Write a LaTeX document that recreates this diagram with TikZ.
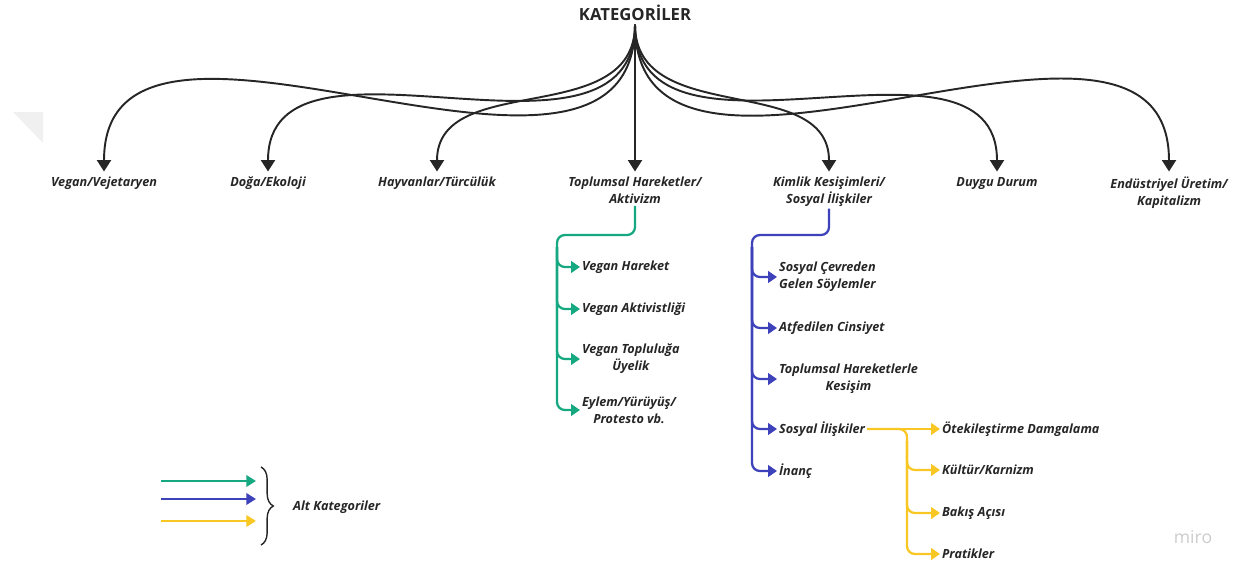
\documentclass[tikz,border=0pt]{standalone}
\usepackage{fontspec}
\setmainfont{Open Sans}
\usetikzlibrary{arrows.meta,decorations.pathreplacing}
\definecolor{yazi}{RGB}{38,38,38}
\definecolor{altyesil}{RGB}{22,168,128}
\definecolor{altmavi}{RGB}{62,66,186}
\definecolor{altsari}{RGB}{248,199,36}

\begin{document}
\begin{tikzpicture}[
        x=0.02cm, y=-0.02cm, % piksel olcusu, y asagi dogru
        kat/.style={font=\bfseries\itshape\fontsize{7.2}{9.6}\selectfont, text=yazi, align=center, inner sep=1pt},
        altkat/.style={kat, anchor=west}, % alt kategori yazilari
        ana/.style={draw=yazi, line width=1.1pt, shorten >=2pt, -{Triangle[length=6.5pt, width=8pt]}},
        dal/.style={line width=1.3pt, rounded corners=4.5pt, -{Triangle[length=5pt, width=6.5pt]}},
    ]
    \useasboundingbox (0,0) rectangle (1254,568);

    % soluk filigran
    \fill[gray!12] (13,112) -- (43,112) -- (43,143) -- cycle;
    \node[text=gray!40, font=\fontsize{10}{10}\selectfont] (miro) at (1193,537) {miro};

    % ana kategoriler
    \node[font=\bfseries\fontsize{9.5}{11}\selectfont, text=yazi, inner sep=2pt] (kok) at (635,13) {KATEGORİLER};
    \node[kat, anchor=north] (vegan) at (104,175) {Vegan/Vejetaryen};
    \node[kat, anchor=north] (doga) at (268,175) {Doğa/Ekoloji};
    \node[kat, anchor=north] (hayvan) at (437,175) {Hayvanlar/Türcülük};
    \node[kat, anchor=north] (toplum) at (635,175) {Toplumsal Hareketler/\\Aktivizm};
    \node[kat, anchor=north] (kimlik) at (829,175) {Kimlik Kesişimleri/\\Sosyal İlişkiler};
    \node[kat, anchor=north] (duygu) at (997,175) {Duygu Durum};
    \node[kat, anchor=north] (endustri) at (1169,175) {Endüstriyel Üretim/\\Kapitalizm};

    \foreach \k in {vegan,doga,hayvan,kimlik,duygu,endustri}
        \draw[ana] (kok.south) to[out=-90, in=90, looseness=1.08] (\k.north);
    \draw[ana] (kok.south) -- (toplum.north);

    % toplumsal hareketler alt kategorileri
    \node[altkat] (vhareket) at (580,267) {Vegan Hareket};
    \node[altkat] (vaktivist) at (580,309) {Vegan Aktivistliği};
    \node[altkat] (vtopluluk) at (580,359) {Vegan Topluluğa\\Üyelik};
    \node[altkat] (eylem) at (580,410) {Eylem/Yürüyüş/\\Protesto vb.};
    \coordinate (ykose) at (557,235);
    \coordinate (ydal) at (557,247);
    \draw[dal, altyesil] (toplum.south) |- (ykose) |- (eylem.west);
    \foreach \k in {vhareket,vaktivist,vtopluluk}
        \draw[dal, altyesil] (ydal) |- (\k.west);

    % kimlik alt kategorileri
    \node[altkat] (cevre) at (777,277) {Sosyal Çevreden\\Gelen Söylemler};
    \node[altkat] (cinsiyet) at (777,328) {Atfedilen Cinsiyet};
    \node[altkat] (kesisim) at (777,379) {Toplumsal Hareketlerle\\Kesişim};
    \node[altkat] (iliski) at (777,429) {Sosyal İlişkiler};
    \node[altkat] (inanc) at (777,471) {İnanç};
    \coordinate (mkose) at (752,235);
    \coordinate (mdal) at (752,247);
    \draw[dal, altmavi] (kimlik.south) |- (mkose) |- (inanc.west);
    \foreach \k in {cevre,cinsiyet,kesisim,iliski}
        \draw[dal, altmavi] (mdal) |- (\k.west);

    % sosyal iliskiler alt kategorileri
    \node[altkat] (otek) at (940,429) {Ötekileştirme Damgalama};
    \node[altkat] (kultur) at (940,470) {Kültür/Karnizm};
    \node[altkat] (bakis) at (940,513) {Bakış Açısı};
    \node[altkat] (pratik) at (940,554) {Pratikler};
    \coordinate (skose) at (907,429);
    \coordinate (sdal) at (907,441);
    \draw[dal, altsari] (iliski.east) -- (otek.west);
    \draw[dal, altsari] (iliski.east) -- (skose) |- (pratik.west);
    \foreach \k in {kultur,bakis}
        \draw[dal, altsari] (sdal) |- (\k.west);

    % lejant
    \foreach \renk/\y [count=\i] in {altyesil/481, altmavi/499, altsari/521} {
        \coordinate (lb\i) at (161,\y);
        \coordinate (ls\i) at (256,\y);
        \draw[line width=1.3pt, \renk, -{Triangle[length=5.5pt, width=6.5pt]}] (lb\i) -- (ls\i);
    }
    \coordinate (pust) at (261,467);
    \coordinate (palt) at (261,545);
    \draw[yazi, line width=0.8pt, decorate, decoration={brace, amplitude=7pt}] (pust) -- (palt);
    \node[altkat] (lejant) at (291,507) {Alt Kategoriler};
\end{tikzpicture}
\end{document}
